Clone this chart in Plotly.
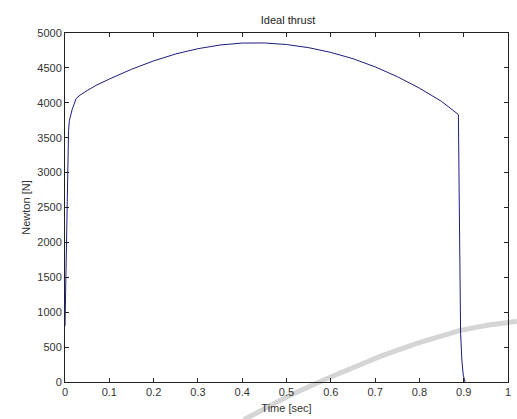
import plotly.graph_objects as go

time_s = [0.0, 0.002, 0.004, 0.006, 0.008, 0.010, 0.016, 0.025, 0.034, 0.050, 0.070,
          0.10, 0.15, 0.20, 0.25, 0.30, 0.35, 0.40, 0.43, 0.45, 0.50, 0.55, 0.60,
          0.65, 0.70, 0.75, 0.80, 0.85, 0.888, 0.889, 0.890, 0.891, 0.893, 0.896,
          0.899, 0.903]
thrust_n = [800, 1500, 2600, 3300, 3600, 3750, 3900, 4060, 4110, 4175, 4250,
            4340, 4480, 4600, 4700, 4775, 4828, 4856, 4860, 4857, 4835, 4790, 4722,
            4632, 4515, 4375, 4210, 4020, 3832, 3000, 2000, 1200, 700, 300,
            100, 0]

x_ticks = [0, 0.1, 0.2, 0.3, 0.4, 0.5, 0.6, 0.7, 0.8, 0.9, 1]
x_tick_labels = ["0", "0.1", "0.2", "0.3", "0.4", "0.5", "0.6", "0.7", "0.8", "0.9", "1"]
y_ticks = [0, 500, 1000, 1500, 2000, 2500, 3000, 3500, 4000, 4500, 5000]

W, H = 517, 419
L, R, T, B = 65, 6, 33, 35
pw, ph = W - L - R, H - T - B

fig = go.Figure()
fig.add_trace(go.Scatter(x=time_s, y=thrust_n, mode="lines",
                         line=dict(color="#1c1c80", width=1), showlegend=False))

def px2paper(px, py):
    return (px - L) / pw, (H - B - py) / ph

# faint watermark arc
pts = [(245, 422), (290, 398), (330, 380), (383, 358), (420, 345), (463, 332), (490, 327), (520, 323)]
path = "M " + " L ".join(f"{px2paper(a, b)[0]:.4f},{px2paper(a, b)[1]:.4f}" for a, b in pts)
fig.add_shape(type="path", path=path, xref="paper", yref="paper",
              line=dict(color="rgba(208,208,208,0.9)", width=5), layer="below")

axis_common = dict(showline=True, linecolor="#222", linewidth=1, mirror="ticks",
                   ticks="inside", ticklen=4, tickcolor="#222", showgrid=False,
                   zeroline=False, tickfont=dict(family="Liberation Sans, Arial", size=11, color="#333"))

fig.update_xaxes(range=[0, 1], tickvals=x_ticks, ticktext=x_tick_labels, **axis_common,
                 title=dict(text="Time [sec]", standoff=7,
                            font=dict(family="Liberation Sans, Arial", size=11, color="#333")))
fig.update_yaxes(range=[0, 5000], tickvals=y_ticks, **axis_common,
                 title=dict(text="Newton [N]", standoff=4,
                            font=dict(family="Liberation Sans, Arial", size=11, color="#333")))

fig.update_layout(
    width=W, height=H,
    margin=dict(l=L, r=R, t=T, b=B),
    paper_bgcolor="white", plot_bgcolor="white",
    title=dict(text="Ideal thrust", x=(L + pw / 2) / W, xanchor="center",
               y=1 - 20 / H, yanchor="middle",
               font=dict(family="Liberation Sans, Arial", size=11, color="#222")),
)

fig.write_html("out.html")
